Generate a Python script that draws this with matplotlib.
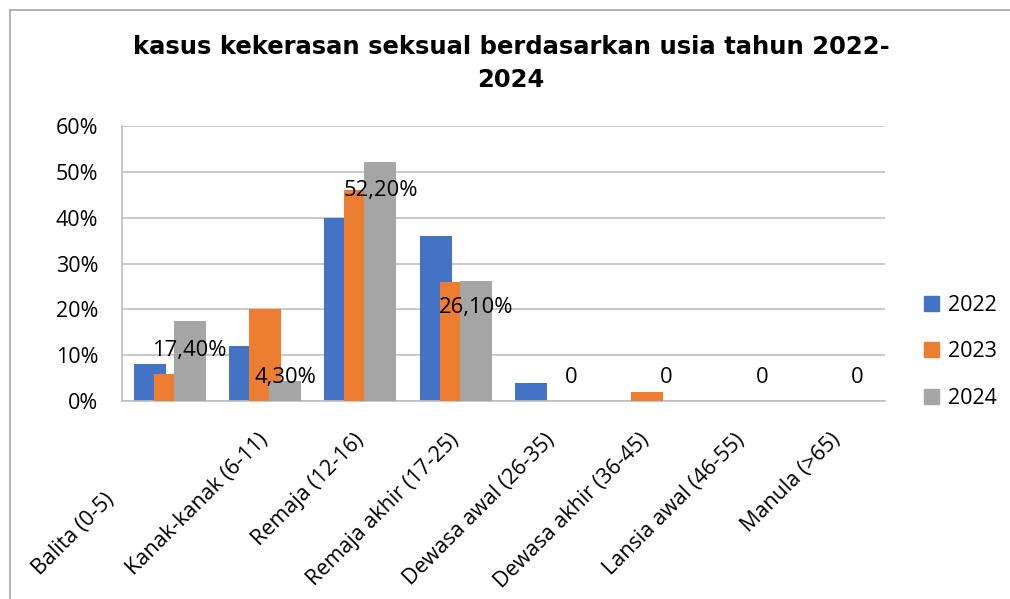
import matplotlib
matplotlib.use("Agg")
import matplotlib.pyplot as plt
import numpy as np
from matplotlib.lines import Line2D
from matplotlib.patches import Patch
from matplotlib.transforms import ScaledTranslation

plt.rcParams["font.family"] = ["Open Sans", "DejaVu Sans"]

categories = [
    "Balita (0-5)",
    "Kanak-kanak (6-11)",
    "Remaja (12-16)",
    "Remaja akhir (17-25)",
    "Dewasa awal (26-35)",
    "Dewasa akhir (36-45)",
    "Lansia awal (46-55)",
    "Manula (>65)",
]
years = ["2022", "2023", "2024"]
v2022 = [8, 12, 40, 36, 4, 0, 0, 0]
v2023 = [6, 20, 46, 26, 0, 2, 0, 0]
v2024 = [17.4, 4.3, 52.2, 26.1, 0, 0, 0, 0]
colors = ["#4472C4", "#ED7D31", "#A5A5A5"]

# where the 2024 data labels sit (value units), as placed in the original
label_y = [11.1, 5.2, 46.0, 20.3, 5.2, 5.2, 5.2, 5.2]

fig = plt.figure(figsize=(10.10, 5.99), dpi=100)
ax = fig.add_axes([122 / 1010, 1 - 401 / 599, (885 - 122) / 1010, (401 - 126) / 599])

x = np.arange(len(categories))
width = 0.335
step = 0.21
for i, (vals, c) in enumerate(zip([v2022, v2023, v2024], colors)):
    ax.bar(x + (i - 1) * step, vals, width=width, color=c, zorder=2 + i)

for xi, v, ly in zip(x, v2024, label_y):
    txt = "0" if v == 0 else f"{v:.2f}%".replace(".", ",")
    ax.text(xi + step, ly, txt, ha="center", va="center", fontsize=15.8, zorder=10)

ax.set_xlim(-0.5, len(categories) - 0.5)
ax.set_ylim(0, 60)
ax.set_yticks(np.arange(0, 61, 10))
ax.set_yticklabels([f"{t}%" for t in range(0, 61, 10)], fontsize=15.5)
ax.yaxis.grid(True, color="#BFBFBF", linewidth=1.2, zorder=0)
ax.set_axisbelow(True)
ax.tick_params(axis="y", length=0, pad=17)
ax.tick_params(axis="x", length=0, pad=26)
ax.set_xticks(x)
ax.set_xticklabels(categories, rotation=45, ha="right", va="center",
                   rotation_mode="anchor", fontsize=15.5)
first = ax.get_xticklabels()[0]
first.set_transform(first.get_transform() + ScaledTranslation(-0.58, -0.60, fig.dpi_scale_trans))

for s in ["top", "right"]:
    ax.spines[s].set_visible(False)
for s in ["left", "bottom"]:
    ax.spines[s].set_color("#BFBFBF")
    ax.spines[s].set_linewidth(1.2)

fig.text(511 / 1010, 1 - 47 / 599, "kasus kekerasan seksual berdasarkan usia tahun 2022-",
         ha="center", va="center", fontsize=17.5, fontweight="bold", family="DejaVu Sans")
fig.text(511 / 1010, 1 - 80 / 599, "2024",
         ha="center", va="center", fontsize=17.5, fontweight="bold", family="DejaVu Sans")

handles = [Patch(color=c, label=y) for c, y in zip(colors, years)]
fig.legend(handles=handles, loc="center left", bbox_to_anchor=(905 / 1010, 1 - 352 / 599),
           frameon=False, handlelength=0.7, handleheight=0.7, labelspacing=1.18,
           handletextpad=0.4, fontsize=15.5)

# outer chart frame (only top and left edges fall inside the picture)
bx, by = 10 / 1010, 1 - 9.5 / 599
fig.add_artist(Line2D([bx, 1.0], [by, by], transform=fig.transFigure, color="#A6A6A6", lw=1.2))
fig.add_artist(Line2D([bx, bx], [0, by], transform=fig.transFigure, color="#A6A6A6", lw=1.2))

fig.savefig("out.png", dpi=100, facecolor="white")
